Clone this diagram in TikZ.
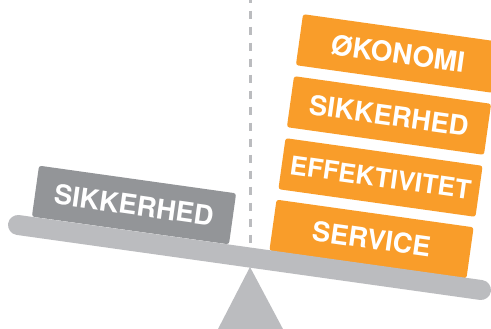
\documentclass[tikz,border=0pt]{standalone}
\usepackage{fontspec}
\setmainfont{TeX Gyre Heros}
\definecolor{beamgray}{HTML}{BBBCBF}
\definecolor{boxgray}{HTML}{939598}
\definecolor{boxorange}{HTML}{F99D2A}
\tikzset{
  block/.style={minimum width=199pt,minimum height=51.5pt,inner sep=0pt,rounded corners=2.5pt,rotate=-8,
    text=white,font=\fontsize{27.3}{28}\selectfont\bfseries},
  orangeblock/.style={block,fill=boxorange},
  grayblock/.style={block,fill=boxgray},
  beam/.style={line width=20pt,line cap=round,draw=beamgray},
  guide/.style={line width=2.4pt,draw=beamgray,dash pattern=on 8pt off 8pt},
}
\begin{document}
\begin{tikzpicture}[x=1pt,y=-1pt]
\clip (0,0) rectangle (491,329);
\fill[white] (0,0) rectangle (491,329);
\coordinate (guidetop) at (250.5,-5);
\coordinate (guidebot) at (250.5,243);
\draw[guide] (guidetop) -- (guidebot);
\node[grayblock] (weight) at (134,205) {SIKKERHED};
\node[orangeblock] (service) at (371.5,239) {SERVICE};
\node[orangeblock,font=\fontsize{26}{27}\selectfont\bfseries] (eff) at (380.5,177.5) {EFFEKTIVITET};
\node[orangeblock] (sikk) at (389,115.5) {SIKKERHED};
\node[orangeblock,font=\fontsize{27.8}{28}\selectfont\bfseries] (oko) at (398,53.5) {ØKONOMI};
\coordinate (beamleft) at (18,225);
\coordinate (beamright) at (481,290);
\draw[beam] (beamleft) -- (beamright);
\fill[beamgray] (250,267) -- (284,331) -- (217,331) -- cycle;
\end{tikzpicture}
\end{document}
